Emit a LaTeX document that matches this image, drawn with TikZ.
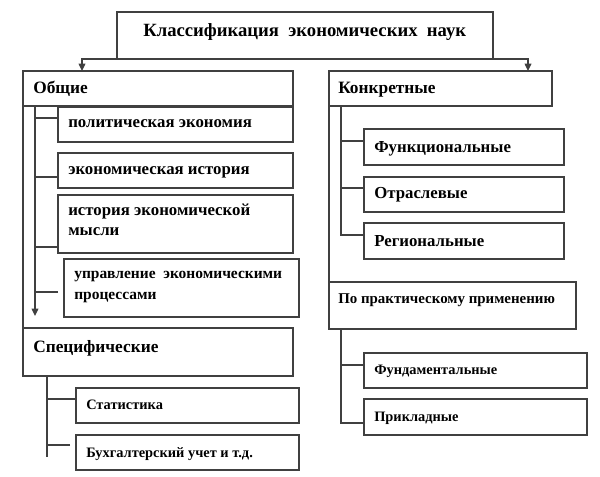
\documentclass[tikz,border=0pt]{standalone}
\usepackage{fontspec}
\setmainfont{Liberation Serif}
\usetikzlibrary{arrows.meta,calc}
\newcommand\mkbox[5]{\node[box, minimum width={(#4-#2)*0.75pt}, minimum height={(#5-#3)*0.75pt}] (#1) at (#2,#3) {};}
\begin{document}
\begin{tikzpicture}[x=0.75pt,y=-0.75pt,
  box/.style={draw=black!75, line width=1pt, inner sep=0pt, outer sep=0pt, anchor=north west, fill=white},
  ln/.style={draw=black!75, line width=1pt},
  arr/.style={ln, -{Triangle[length=5.5pt,width=5pt]}},
  ttl/.style={anchor=base west, inner sep=0pt, font=\bfseries\fontsize{14}{16}\selectfont},
  tmain/.style={anchor=base west, inner sep=0pt, font=\bfseries\fontsize{13}{15}\selectfont},
  tsub/.style={anchor=base west, inner sep=0pt, font=\bfseries\fontsize{12.6}{14}\selectfont},
  tsubn/.style={anchor=base west, inner sep=0pt, font=\bfseries\fontsize{11.6}{14}\selectfont},
  tsm/.style={anchor=base west, inner sep=0pt, font=\bfseries\fontsize{10.8}{12}\selectfont},
  tpr/.style={anchor=base west, inner sep=0pt, font=\bfseries\fontsize{11.2}{13}\selectfont}]
\fill[white] (0,0) rectangle (600,476);
\useasboundingbox (0,0) rectangle (600,476);
% boxes
\mkbox{top}{117}{12}{493}{59}
\mkbox{obsh}{23}{71}{293}{106}
\mkbox{konk}{329}{71}{552}{106}
\mkbox{b1}{58}{107}{293}{142}
\mkbox{b2}{58}{153}{293}{188}
\mkbox{b3}{58}{195}{293}{253}
\mkbox{b4}{64}{259}{299}{317}
\mkbox{spec}{23}{328}{293}{376}
\mkbox{s1}{76}{388}{299}{423}
\mkbox{s2}{76}{435}{299}{470}
\mkbox{k1}{364}{129}{564}{165}
\mkbox{k2}{364}{177}{564}{212}
\mkbox{k3}{364}{223}{564}{259}
\mkbox{prak}{329}{282}{576}{329}
\mkbox{p1}{364}{353}{587}{388}
\mkbox{p2}{364}{399}{587}{435}
% texts
\node[ttl] (ttop) at (143,36) {Классификация\ \ экономических\ \ наук};
\node[tmain] (tobsh) at (33,93) {Общие};
\node[tmain] (tkonk) at (338,93) {Конкретные};
\node[tsub] (tb1) at (68,127) {политическая экономия};
\node[tsub] (tb2) at (68,174) {экономическая история};
\node[tsub] (tb3a) at (68,215) {история экономической};
\node[tsub] (tb3b) at (68,235) {мысли};
\node[tsubn] (tb4a) at (74,278) {управление\ \ экономическими};
\node[tsubn] (tb4b) at (74,299) {процессами};
\node[tmain] (tspec) at (33,352) {Специфические};
\node[tsm] (ts1) at (86,409) {Статистика};
\node[tsm] (ts2) at (86,457) {Бухгалтерский\ учет и т.д.};
\node[tsub] (tk1) at (374,152) {Функциональные};
\node[tsub] (tk2) at (374,198) {Отраслевые};
\node[tsub] (tk3) at (374,246) {Региональные};
\node[tpr] (tprak) at (338,303) {По практическому применению};
\node[tsm] (tp1) at (374,374) {Фундаментальные};
\node[tsm] (tp2) at (374,421) {Прикладные};
% connectors from the title
\coordinate (aL) at (82,71);
\coordinate (aR) at (528,71);
\draw[arr] (top.south) -| (aL);
\draw[arr] (top.south) -| (aR);
% left trunk lines
\draw[ln] (obsh.south west) -- (spec.north west);
\draw[ln] (konk.south west) -- (prak.north west);
% general tree
\coordinate (oA) at ($(obsh.south west)+(12,0)$);
\coordinate (oB) at (35,316);
\draw[arr] (oA) -- (oB);
\coordinate (cb1) at ($(b1.west)+(0,-6.5)$);
\coordinate (cb2) at ($(b2.west)+(0,6.5)$);
\coordinate (cb3) at ($(b3.west)+(0,23)$);
\coordinate (cb4) at ($(b4.west)+(-6,4)$);
\draw[ln] (cb1) -- (cb1 -| oA);
\draw[ln] (cb2) -- (cb2 -| oA);
\draw[ln] (cb3) -- (cb3 -| oA);
\draw[ln] (cb4) -- (cb4 -| oA);
% specific tree
\coordinate (sA) at ($(spec.south west)+(24,0)$);
\coordinate (sB) at (47,457);
\draw[ln] (sA) -- (sB);
\coordinate (cs1) at ($(s1.west)+(0,-6.5)$);
\coordinate (cs2) at ($(s2.west)+(-6,-7.5)$);
\draw[ln] (cs1) -- (cs1 -| sA);
\draw[ln] (cs2) -- (cs2 -| sA);
% concrete tree
\coordinate (kA) at ($(konk.south west)+(12,0)$);
\coordinate (ck1) at ($(k1.west)+(0,-6)$);
\coordinate (ck2) at ($(k2.west)+(0,-6.5)$);
\coordinate (ck3) at ($(k3.west)+(0,-6)$);
\draw[ln] (kA) -- (ck3 -| kA) -- (ck3);
\draw[ln] (ck1) -- (ck1 -| kA);
\draw[ln] (ck2) -- (ck2 -| kA);
% practical tree
\coordinate (pA) at ($(prak.south west)+(12,0)$);
\coordinate (cp1) at ($(p1.west)+(0,-5.5)$);
\coordinate (cp2) at ($(p2.west)+(0,6)$);
\draw[ln] (pA) -- (cp2 -| pA) -- (cp2);
\draw[ln] (cp1) -- (cp1 -| pA);
\end{tikzpicture}
\end{document}
